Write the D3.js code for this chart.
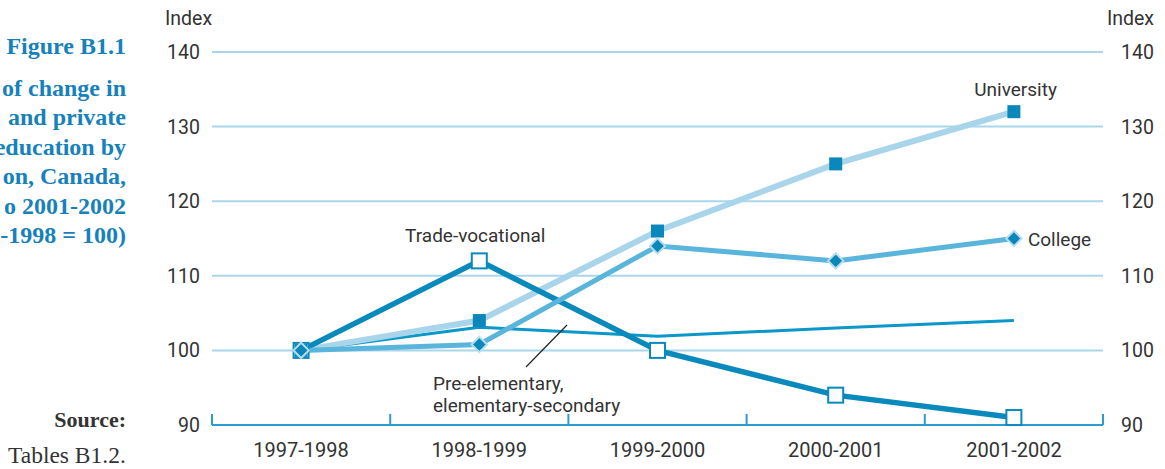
<!DOCTYPE html>
<html>
<head>
<meta charset="utf-8">
<script src="https://cdn.jsdelivr.net/npm/d3@7"></script>
<style>
  html, body { margin: 0; padding: 0; background: #fff; }
  svg { display: block; }
</style>
</head>
<body>
<svg id="chart" width="1165" height="469"></svg>
<script>
// School years on the horizontal axis
const years = ["1997-1998", "1998-1999", "1999-2000", "2000-2001", "2001-2002"];

// Index of expenditure (1997-1998 = 100) for each level of education
const preElementary = [100, 103.1, 101.9, 103, 104];
const university = [100, 104, 116, 125, 132];
const tradeVocational = [100, 112, 100, 94, 91];
const college = [100, 100.8, 114, 112, 115];

// Vertical axis ticks
const indexTicks = [90, 100, 110, 120, 130, 140];

// Figure caption (left margin) and source note
const titleLines = ["Figure B1.1", "of change in", " and private", "education by", "on, Canada,", "o 2001-2002", "-1998 = 100)"];

const svg = d3.select("#chart");

const x = d3.scaleBand().domain(years).range([212, 1103]);
const y = d3.scaleLinear().domain([90, 140]).range([425, 52]);

const cx = d => x(d) + x.bandwidth() / 2;

const gridColor = "#a9d6ea";
const axisColor = "#2a9dd0";
const textColor = "#333";
const font = "Roboto, 'Liberation Sans', sans-serif";

// Horizontal gridlines (all but the baseline)
svg.append("g")
  .selectAll("line")
  .data(indexTicks.filter(t => t > 90))
  .join("line")
  .attr("x1", 212).attr("x2", 1103)
  .attr("y1", d => y(d)).attr("y2", d => y(d))
  .attr("stroke", gridColor).attr("stroke-width", 2);

// Category axis with ticks rising from the baseline at band edges
const xAxis = svg.append("g").attr("transform", `translate(0,${y(90)})`);
xAxis.append("line")
  .attr("x1", 212).attr("x2", 1103)
  .attr("stroke", axisColor).attr("stroke-width", 2);
const edges = years.map(d => x(d)).concat([x.range()[1]]);
xAxis.selectAll("line.tk")
  .data(edges)
  .join("line").attr("class", "tk")
  .attr("x1", d => d).attr("x2", d => d)
  .attr("y1", 0).attr("y2", -11)
  .attr("stroke", axisColor).attr("stroke-width", 2);
xAxis.selectAll("text")
  .data(years)
  .join("text")
  .attr("x", d => cx(d)).attr("y", 32)
  .attr("text-anchor", "middle")
  .attr("font-family", font).attr("font-size", 20)
  .attr("fill", textColor)
  .text(d => d);

// Index labels on both sides
const leftAxis = svg.append("g");
leftAxis.selectAll("text")
  .data(indexTicks)
  .join("text")
  .attr("x", 200).attr("y", d => y(d) + 7)
  .attr("text-anchor", "end")
  .attr("font-family", font).attr("font-size", 19.5)
  .attr("fill", textColor)
  .text(d => d);
const rightAxis = svg.append("g");
rightAxis.selectAll("text")
  .data(indexTicks)
  .join("text")
  .attr("x", 1121).attr("y", d => y(d) + 7)
  .attr("text-anchor", "start")
  .attr("font-family", font).attr("font-size", 19.5)
  .attr("fill", textColor)
  .text(d => d);

svg.append("text").attr("x", 165).attr("y", 25)
  .attr("font-family", font).attr("font-size", 19.5).attr("fill", textColor)
  .text("Index");
svg.append("text").attr("x", 1154).attr("y", 25).attr("text-anchor", "end")
  .attr("font-family", font).attr("font-size", 19.5).attr("fill", textColor)
  .text("Index");

// Lines
const line = d3.line().x((d, i) => cx(years[i])).y(d => y(d));

const series = [
  { values: preElementary, color: "#0a97c9", width: 3 },
  { values: university, color: "#a8d5ea", width: 6 },
  { values: tradeVocational, color: "#0a89bd", width: 5.5 },
  { values: college, color: "#5ab5dc", width: 5 }
];
svg.append("g")
  .selectAll("path")
  .data(series)
  .join("path")
  .attr("d", d => line(d.values))
  .attr("fill", "none")
  .attr("stroke", d => d.color)
  .attr("stroke-width", d => d.width)
  .attr("stroke-linejoin", "miter");

// Markers: open squares for trade-vocational
svg.append("g")
  .selectAll("rect")
  .data(tradeVocational)
  .join("rect")
  .attr("x", (d, i) => cx(years[i]) - 7.5)
  .attr("y", d => y(d) - 7.5)
  .attr("width", 15).attr("height", 15)
  .attr("fill", "#fff")
  .attr("stroke", "#0a89bd").attr("stroke-width", 2);

// Filled squares for university
svg.append("g")
  .selectAll("rect")
  .data(university)
  .join("rect")
  .attr("x", (d, i) => cx(years[i]) - 6.5)
  .attr("y", d => y(d) - 6.5)
  .attr("width", 13).attr("height", 13)
  .attr("fill", "#0a87bb");

// Diamonds for college
svg.append("g")
  .selectAll("path")
  .data(college)
  .join("path")
  .attr("d", d3.symbol(d3.symbolDiamond2, 150))
  .attr("transform", (d, i) => `translate(${cx(years[i])},${y(d)})`)
  .attr("fill", "#0a87bb")
  .attr("stroke", "#b7def0").attr("stroke-width", 2);

// Series labels
const lab = (tx, ty, s, anchor) => svg.append("text")
  .attr("x", tx).attr("y", ty)
  .attr("text-anchor", anchor || "start")
  .attr("font-family", font).attr("font-size", 19).attr("fill", textColor)
  .text(s);
lab(cx(years[1]) - 4, y(tradeVocational[1]) - 19, "Trade-vocational", "middle");
lab(cx(years[4]) + 43, y(university[4]) - 16, "University", "end");
lab(cx(years[4]) + 14, y(college[4]) + 7, "College");
lab(433, 390, "Pre-elementary,");
lab(433, 412, "elementary-secondary");

// Leader line to the pre-elementary series
svg.append("line")
  .attr("x1", 526).attr("y1", 367)
  .attr("x2", 567).attr("y2", 325)
  .attr("stroke", "#222").attr("stroke-width", 1.2);

// Caption in the left margin (runs off the page edge on the left)
const serif = "'Liberation Serif', 'DejaVu Serif', serif";
svg.append("g")
  .selectAll("text")
  .data(titleLines)
  .join("text")
  .attr("x", 126)
  .attr("y", (d, i) => i === 0 ? 54 : 96 + (i - 1) * 29.4)
  .attr("text-anchor", "end")
  .attr("font-family", serif).attr("font-weight", "bold")
  .attr("font-size", 24)
  .attr("fill", "#1681bb")
  .text(d => d);

svg.append("text").attr("x", 126).attr("y", 427).attr("text-anchor", "end")
  .attr("font-family", serif).attr("font-weight", "bold").attr("font-size", 22)
  .attr("fill", "#333").text("Source:");
svg.append("text").attr("x", 8).attr("y", 463)
  .attr("font-family", serif).attr("font-size", 23.5)
  .attr("fill", "#333").text("Tables B1.2.");
</script>
</body>
</html>
